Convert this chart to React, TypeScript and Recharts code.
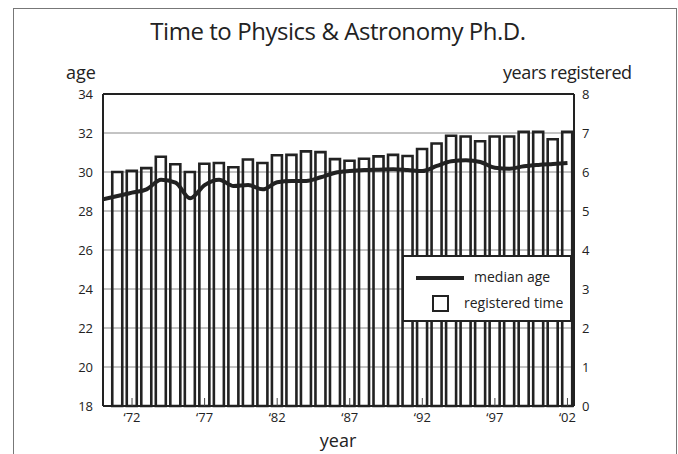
import React from "react";
import {
  ComposedChart,
  Bar,
  Line,
  XAxis,
  YAxis,
  CartesianGrid,
  ReferenceLine,
} from "recharts";

const years = [
  1970, 1971, 1972, 1973, 1974, 1975, 1976, 1977, 1978, 1979, 1980, 1981,
  1982, 1983, 1984, 1985, 1986, 1987, 1988, 1989, 1990, 1991, 1992, 1993,
  1994, 1995, 1996, 1997, 1998, 1999, 2000, 2001, 2002,
];

// median age at Ph.D. (left axis)
const medianAge = [
  28.6, 28.77, 28.94, 29.11, 29.6, 29.45, 28.65, 29.33, 29.6, 29.28, 29.33,
  29.11, 29.47, 29.54, 29.54, 29.73, 29.96, 30.05, 30.1, 30.12, 30.14, 30.1,
  30.05, 30.31, 30.55, 30.6, 30.51, 30.22, 30.17, 30.29, 30.36, 30.41, 30.46,
];

// years registered (right axis); no bar for 1970
const registeredTime = [
  null, 6.0, 6.03, 6.1, 6.39, 6.2, 6.0, 6.21, 6.23, 6.12, 6.32, 6.23, 6.43,
  6.44, 6.53, 6.51, 6.33, 6.29, 6.34, 6.4, 6.44, 6.41, 6.59, 6.73, 6.93,
  6.91, 6.79, 6.91, 6.91, 7.03, 7.03, 6.84, 7.03,
];

const yearTicks = [1972, 1977, 1982, 1987, 1992, 1997, 2002];
const ageTicks = [18, 20, 22, 24, 26, 28, 30, 32, 34];
const registeredTicks = [0, 1, 2, 3, 4, 5, 6, 7, 8];

const data = years.map((year, i) => ({
  year,
  age: medianAge[i],
  registered: registeredTime[i],
}));

const font = "'Open Sans', 'Noto Sans', sans-serif";
const ink = "#222";
const tickStyle = { fontSize: 13, fill: ink, fontFamily: font };

export default function App() {
  return (
    <div
      style={{
        position: "absolute",
        left: 0,
        top: 0,
        width: 678,
        height: 454,
        overflow: "hidden",
        background: "#fff",
        fontFamily: font,
        color: ink,
      }}
    >
      <div
        style={{
          position: "absolute",
          left: 13,
          top: 8,
          width: 662,
          height: 460,
          border: "1px solid #777",
          borderBottom: "none",
        }}
      />
      <div
        style={{
          position: "absolute",
          left: 0,
          top: 14,
          width: 676,
          textAlign: "center",
          fontSize: 24,
          letterSpacing: -0.45,
        }}
      >
        Time to Physics &amp; Astronomy Ph.D.
      </div>
      <div style={{ position: "absolute", left: 66, top: 60, fontSize: 18 }}>
        age
      </div>
      <div style={{ position: "absolute", left: 503, top: 60, fontSize: 18, letterSpacing: -0.4 }}>
        years registered
      </div>
      <div
        style={{
          position: "absolute",
          left: 288,
          width: 100,
          top: 428,
          textAlign: "center",
          fontSize: 18,
        }}
      >
        year
      </div>

      <ComposedChart
        width={678}
        height={454}
        data={data}
        margin={{ top: 94, right: 64, bottom: 18, left: 63 }}
        style={{ position: "absolute", left: 0, top: 0 }}
      >
        <CartesianGrid
          yAxisId="age"
          vertical={false}
          stroke="#888"
          strokeWidth={1}
        />
        <XAxis
          dataKey="year"
          type="number"
          domain={[1970, 2002.45]}
          ticks={yearTicks}
          tickFormatter={(y: number) => "\u2018" + String(y).slice(2)}
          tick={tickStyle}
          axisLine={{ stroke: ink, strokeWidth: 2 }}
          tickLine={{ stroke: "#444" }}
          tickSize={-8}
          tickMargin={15}
          height={30}
          allowDataOverflow
        />
        <YAxis
          yAxisId="age"
          domain={[18, 34]}
          ticks={ageTicks}
          tick={tickStyle}
          axisLine={{ stroke: ink, strokeWidth: 2 }}
          tickLine={false}
          tickSize={0}
          tickMargin={10}
          width={40}
        />
        <YAxis
          yAxisId="reg"
          orientation="right"
          domain={[0, 8]}
          ticks={registeredTicks}
          tick={tickStyle}
          axisLine={{ stroke: ink, strokeWidth: 2 }}
          tickLine={false}
          tickSize={0}
          tickMargin={8}
          width={40}
        />
        <ReferenceLine yAxisId="age" y={34} stroke={ink} strokeWidth={2} />
        <Bar
          yAxisId="reg"
          dataKey="registered"
          barSize={10}
          fill="none"
          stroke="#222"
          strokeWidth={2.6}
          isAnimationActive={false}
        />
        <Line
          yAxisId="age"
          dataKey="age"
          type="monotone"
          stroke={ink}
          strokeWidth={4}
          dot={false}
          isAnimationActive={false}
        />
      </ComposedChart>

      <div
        style={{
          position: "absolute",
          left: 402,
          top: 255,
          width: 166,
          height: 63,
          border: "2px solid " + ink,
          background: "#fff",
        }}
      >
        <div
          style={{
            position: "absolute",
            left: 12,
            top: 19,
            width: 48,
            height: 4,
            background: ink,
          }}
        />
        <div style={{ position: "absolute", left: 70, top: 10, fontSize: 14 }}>
          median age
        </div>
        <div
          style={{
            position: "absolute",
            left: 28,
            top: 38,
            width: 13,
            height: 13,
            border: "2px solid " + ink,
          }}
        />
        <div style={{ position: "absolute", left: 60, top: 36, fontSize: 14 }}>
          registered time
        </div>
      </div>
    </div>
  );
}
